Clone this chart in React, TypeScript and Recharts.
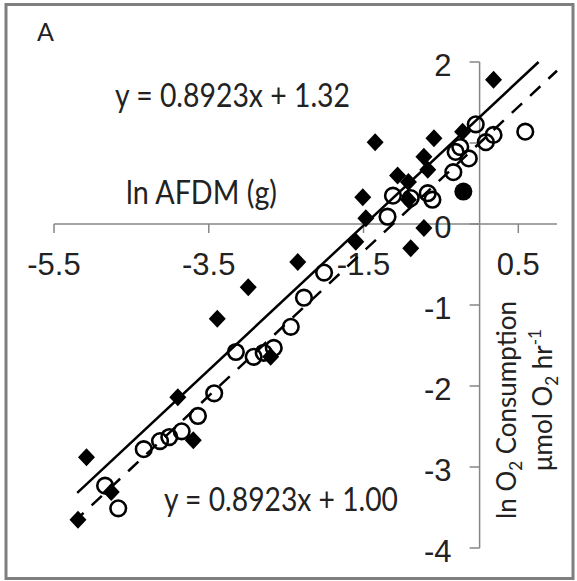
import React from "react";
import { ScatterChart, Scatter, XAxis, YAxis, ReferenceLine, ReferenceDot } from "recharts";

// ---- data ----
const diamondX = [-5.19, -5.08, -4.76, -3.9, -3.7, -3.39, -2.99, -2.35, -2.7, -1.6, -1.47, -1.51, -1.35, -1.06, -0.92, -0.92, -0.72, -0.67, -0.59, -0.72, -0.89, -0.22, 0.18];
const diamondY = [-3.65, -2.88, -3.31, -2.14, -2.67, -1.17, -0.78, -0.47, -1.64, -0.22, 0.07, 0.33, 1.01, 0.6, 0.52, 0.3, 0.83, 0.67, 1.06, -0.05, -0.3, 1.14, 1.78];

const circleX = [-4.67, -4.84, -4.34, -4.13, -4.01, -3.85, -3.64, -3.43, -3.15, -2.92, -2.79, -2.66, -2.44, -2.27, -2.01, -1.19, -1.12, -0.89, -0.67, -0.61, -0.34, -0.31, -0.14, -0.25, -0.05, 0.08, 0.18, 0.59];
const circleY = [-3.51, -3.23, -2.78, -2.68, -2.63, -2.56, -2.37, -2.09, -1.58, -1.64, -1.59, -1.53, -1.27, -0.91, -0.6, 0.09, 0.35, 0.32, 0.38, 0.3, 0.64, 0.89, 0.81, 0.95, 1.23, 1.01, 1.1, 1.14];

const filledCircleX = [-0.21];
const filledCircleY = [0.4];

const slope = 0.8923;
const interceptSolid = 1.32;
const interceptDashed = 1.0;
const solidRange = [-5.2, 0.762];
const dashedRange = [-5.25, 1.0];

const xTicks = [-5.5, -3.5, -1.5, 0.5];
const xTickLabels = ["-5.5", "-3.5", "-1.5", "0.5"];
const yTicks = [2, 1, 0, -1, -2, -3, -4];
const yTickLabels = ["2", "", "0", "-1", "-2", "-3", "-4"];

const diamonds = diamondX.map((x, i) => ({ x, y: diamondY[i] }));
const circles = circleX.map((x, i) => ({ x, y: circleY[i] }));
const filledCircles = filledCircleX.map((x, i) => ({ x, y: filledCircleY[i] }));
const solidFit = solidRange.map((x) => ({ x, y: slope * x + interceptSolid }));
const dashedFit = dashedRange.map((x) => ({ x, y: slope * x + interceptDashed }));

const AXIS = "#868686";
const TICK_FONT = "'Liberation Sans', Arial, sans-serif";
const TEXT_FONT = "Lato, 'Open Sans', sans-serif";

const Diamond = (p: any) => {
  const { cx, cy } = p;
  return (
    <polygon
      points={`${cx},${cy - 9} ${cx + 8.5},${cy} ${cx},${cy + 9} ${cx - 8.5},${cy}`}
      fill="#000"
    />
  );
};
const OpenCircle = (p: any) => (
  <circle cx={p.cx} cy={p.cy} r={7.8} fill="none" stroke="#000" strokeWidth={2.6} />
);
const FilledCircle = (p: any) => <circle cx={p.cx} cy={p.cy} r={9} fill="#000" />;
const NoShape = () => <g />;

const makeXTick = (label: string) => (p: any) => (
  <g>
    <line x1={p.cx} y1={p.cy} x2={p.cx} y2={p.cy + 9} stroke={AXIS} strokeWidth={1.5} />
    <text x={p.cx} y={p.cy + 51} textAnchor="middle" fontFamily={TICK_FONT} fontSize={31} fill="#222">
      {label}
    </text>
  </g>
);
const makeYTick = (label: string) => (p: any) => (
  <g>
    <line x1={p.cx} y1={p.cy} x2={p.cx - 10} y2={p.cy} stroke={AXIS} strokeWidth={1.5} />
    {label !== "" && (
      <text x={p.cx - 28} y={p.cy + 14} textAnchor="end" fontFamily={TICK_FONT} fontSize={31} fill="#222">
        {label}
      </text>
    )}
  </g>
);

export default function App() {
  return (
    <div style={{ position: "absolute", left: 0, top: 0, width: 577, height: 581, background: "#fff" }}>
      <ScatterChart width={577} height={581} margin={{ top: 62, right: 20, bottom: 33, left: 54 }}>
        <XAxis type="number" dataKey="x" domain={[-5.5, 1]} ticks={xTicks} hide />
        <YAxis type="number" dataKey="y" domain={[-4, 2]} ticks={yTicks} hide />
        <ReferenceLine y={0} stroke={AXIS} strokeWidth={1.5} ifOverflow="visible" />
        <ReferenceLine x={0} stroke={AXIS} strokeWidth={1.5} ifOverflow="visible" />
        {xTicks.map((t, i) => (
          <ReferenceDot key={"xt" + i} x={t} y={0} r={0} ifOverflow="visible" shape={makeXTick(xTickLabels[i])} />
        ))}
        {yTicks.map((t, i) => (
          <ReferenceDot key={"yt" + i} x={0} y={t} r={0} ifOverflow="visible" shape={makeYTick(yTickLabels[i])} />
        ))}
        <Scatter data={solidFit} line={{ stroke: "#000", strokeWidth: 2.5 }} shape={NoShape} isAnimationActive={false} />
        <Scatter
          data={dashedFit}
          line={{ stroke: "#000", strokeWidth: 2.5, strokeDasharray: "14 11" }}
          shape={NoShape}
          isAnimationActive={false}
        />
        <Scatter data={circles} shape={OpenCircle} isAnimationActive={false} />
        <Scatter data={diamonds} shape={Diamond} isAnimationActive={false} />
        <Scatter data={filledCircles} shape={FilledCircle} isAnimationActive={false} />
      </ScatterChart>
      <svg
        width={577}
        height={581}
        style={{ position: "absolute", left: 0, top: 0, pointerEvents: "none" }}
      >
        <rect x={6} y={4.5} width={567} height={574} fill="none" stroke="#7f7f7f" strokeWidth={3} />
        <text x={37} y={41} fontFamily={TEXT_FONT} fontSize={25} fill="#222">A</text>
        <text x={115} y={107} fontFamily={TEXT_FONT} fontSize={32} fill="#222" textLength={235} lengthAdjust="spacingAndGlyphs">
          y = 0.8923x + 1.32
        </text>
        <text x={126} y={204} fontFamily={TEXT_FONT} fontSize={33} fill="#222" textLength={151} lengthAdjust="spacingAndGlyphs">
          ln AFDM (g)
        </text>
        <text x={164} y={511} fontFamily={TEXT_FONT} fontSize={32} fill="#222" textLength={234} lengthAdjust="spacingAndGlyphs">
          y = 0.8923x + 1.00
        </text>
        <text
          x={516}
          y={410}
          transform="rotate(-90 516 410)"
          textAnchor="middle"
          fontFamily={TEXT_FONT}
          fontSize={26}
          fill="#222"
        >
          ln O<tspan fontSize={17} dy={6}>2</tspan>
          <tspan dy={-6}> Consumption</tspan>
        </text>
        <text
          x={552}
          y={400}
          transform="rotate(-90 552 400)"
          textAnchor="middle"
          fontFamily={TEXT_FONT}
          fontSize={26}
          fill="#222"
        >
          μmol O<tspan fontSize={17} dy={6}>2</tspan>
          <tspan dy={-6}> hr</tspan>
          <tspan fontSize={17} dy={-11}>-1</tspan>
        </text>
      </svg>
    </div>
  );
}
